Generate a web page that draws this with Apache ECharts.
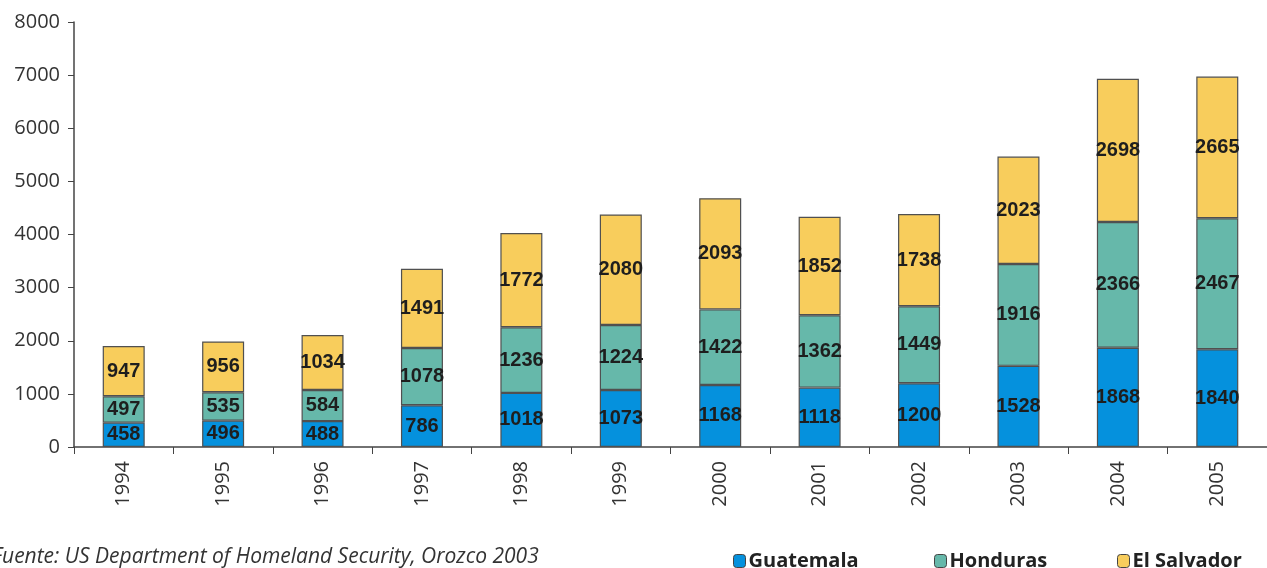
<!DOCTYPE html>
<html>
<head>
<meta charset="utf-8">
<script src="https://cdn.jsdelivr.net/npm/echarts@6/dist/echarts.min.js"></script>
<style>
  html, body { margin: 0; padding: 0; background: #fff; }
  #main { width: 1267px; height: 568px; }
</style>
</head>
<body>
<div id="main"></div>
<script>
var years = ['1994', '1995', '1996', '1997', '1998', '1999', '2000', '2001', '2002', '2003', '2004', '2005'];
var guatemala = [458, 496, 488, 786, 1018, 1073, 1168, 1118, 1200, 1528, 1868, 1840];
var honduras = [497, 535, 584, 1078, 1236, 1224, 1422, 1362, 1449, 1916, 2366, 2467];
var elSalvador = [947, 956, 1034, 1491, 1772, 2080, 2093, 1852, 1738, 2023, 2698, 2665];
var yTicks = [0, 1000, 2000, 3000, 4000, 5000, 6000, 7000, 8000];

var colors = ['#0591dd', '#66b8aa', '#f8cd5c'];

var myChart = echarts.init(document.getElementById('main'));

var labelStyle = {
	show: true,
	position: 'inside',
	color: '#1e1e1e',
	fontFamily: 'Liberation Sans',
	fontWeight: 'bold',
	fontSize: 20
};

function makeSeries(name, data, color) {
	return {
		name: name,
		type: 'bar',
		stack: 'total',
		barWidth: 42,
		data: data,
		itemStyle: { color: color, borderColor: '#505050', borderWidth: 1.2 },
		label: labelStyle
	};
}

function makeLegend(name, left) {
	return {
		left: left,
		top: 546,
		itemWidth: 12,
		itemHeight: 13,
		itemGap: 0,
		data: [name],
		textStyle: { fontFamily: 'Open Sans', fontWeight: 'bold', fontSize: 20, color: '#222', padding: [0, 0, 0, -2] },
		itemStyle: { borderColor: '#444', borderWidth: 1 }
	};
}

var option = {
	backgroundColor: '#fff',
	animation: false,
	color: colors,
	grid: { left: 74, right: -9, top: 22, bottom: 121 },
	legend: [
		makeLegend('Guatemala', 728),
		makeLegend('Honduras', 929),
		makeLegend('El Salvador', 1112)
	],
	graphic: [{
		type: 'text',
		left: -8,
		top: 547,
		style: {
			text: 'Fuente: US Department of Homeland Security, Orozco 2003',
			font: 'italic 21px "Open Sans"',
			fill: '#333'
		}
	}],
	xAxis: {
		type: 'category',
		data: years,
		axisLine: { lineStyle: { color: '#444', width: 1.5 } },
		axisTick: { show: true, length: 7, lineStyle: { color: '#444' } },
		axisLabel: { rotate: 90, color: '#333', fontFamily: 'Open Sans', fontSize: 20, margin: 14 }
	},
	yAxis: {
		type: 'value',
		min: yTicks[0],
		max: yTicks[yTicks.length - 1],
		interval: 1000,
		axisLine: { show: true, lineStyle: { color: '#444', width: 1.5 } },
		axisTick: { show: true, length: 6, lineStyle: { color: '#444' } },
		splitLine: { show: false },
		axisLabel: {
			color: '#333', fontFamily: 'Open Sans', fontSize: 20, margin: 14,
			formatter: function (v) { return String(v); }
		}
	},
	series: [
		makeSeries('Guatemala', guatemala, colors[0]),
		makeSeries('Honduras', honduras, colors[1]),
		makeSeries('El Salvador', elSalvador, colors[2])
	]
};

myChart.setOption(option);
</script>
</body>
</html>
